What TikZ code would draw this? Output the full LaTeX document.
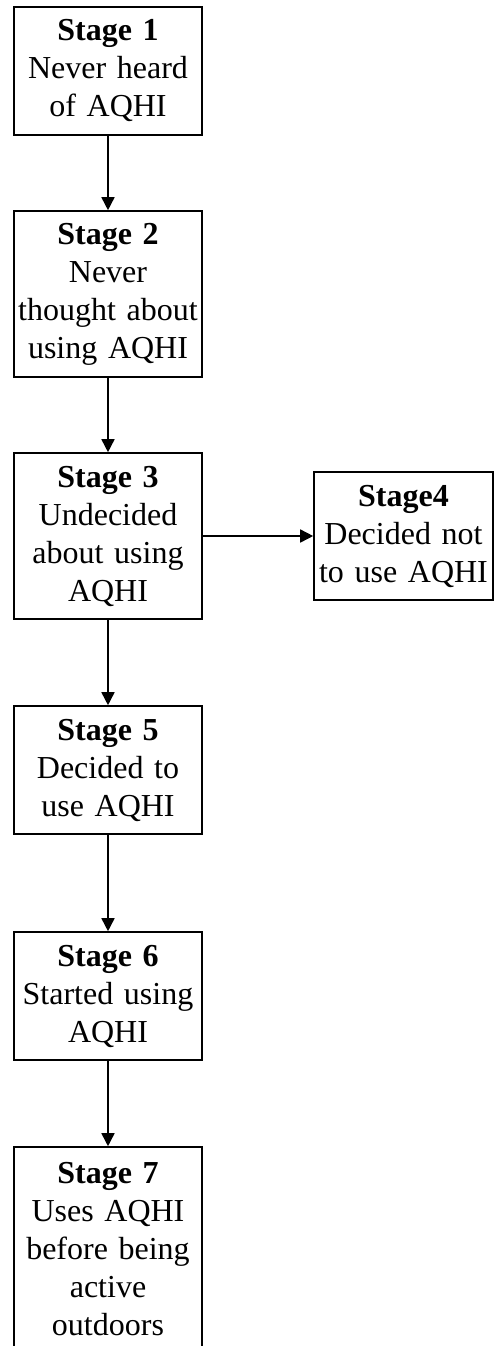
\documentclass[tikz,border=0pt]{standalone}
\usepackage{fontspec}
\setmainfont{Liberation Serif}
\usepackage{tikz}
\usetikzlibrary{arrows.meta,positioning}
\tikzset{
    stage/.style={
        rectangle,
        draw=black,
        line width=1.6pt,
        text width=184pt,
        inner sep=2pt,
        align=center,
        minimum height=128pt,
        font=\fontsize{32}{38}\selectfont,
    },
    side/.style={
        stage,
        text width=175pt,
    },
    every edge/.style={
        draw,
        -{Triangle[length=13pt,width=13pt]},
        line width=1.6pt
    },
  }

\begin{document}
\begin{tikzpicture}
              \useasboundingbox (0,0) rectangle (494pt,-1346pt);
              \node [stage] (s1) at (108pt,-71pt) {\textbf{Stage 1}\\Never heard\\of AQHI};
              \node [stage,below=74.4pt of s1,minimum height=166pt] (s2) {\textbf{Stage 2}\\Never\\thought about\\using AQHI};
              \node [stage,below=74.4pt of s2,minimum height=166pt] (s3) {\textbf{Stage 3}\\Undecided\\about using\\AQHI};
              \node [side,right=110.4pt of s3] (s4) {\textbf{Stage4}\\Decided not\\to use AQHI};
              \node [stage,below=85.4pt of s3] (s5) {\textbf{Stage 5}\\Decided to\\use AQHI};
              \node [stage,below=96.4pt of s5] (s6) {\textbf{Stage 6}\\Started using\\AQHI};
              \node [stage,below=85.4pt of s6,minimum height=204pt] (s7) {\textbf{Stage 7}\\Uses AQHI\\before being\\active\\outdoors};

              \draw (s1) edge (s2);
              \draw (s2) edge (s3);
              \draw (s3) edge (s4);
              \draw (s3) edge (s5);
              \draw (s5) edge (s6);
              \draw (s6) edge (s7);
            \end{tikzpicture}
\end{document}
